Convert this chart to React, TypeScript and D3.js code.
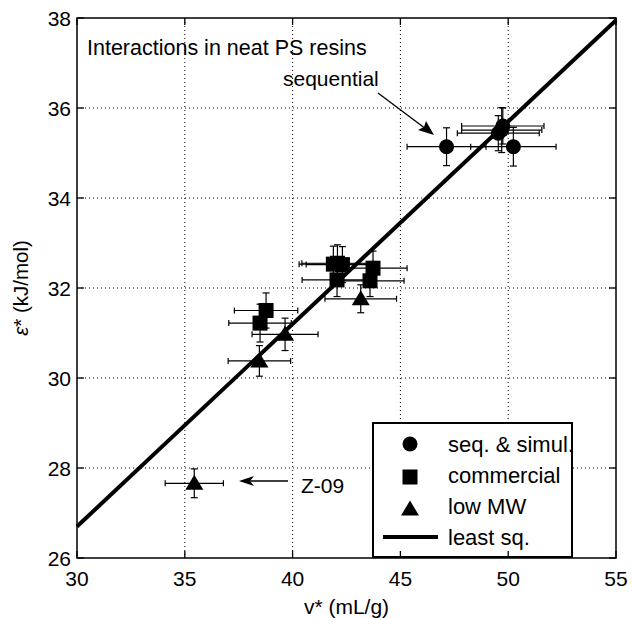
import React from "react";
import * as d3 from "d3";

// ---- data ----
const circleX = [47.14, 50.24, 49.75, 49.70, 49.54];
const circleY = [35.14, 35.14, 35.60, 35.51, 35.44];
const circleXErr = [1.83, 1.98, 1.91, 1.86, 1.90];
const circleYErr = [0.42, 0.43, 0.40, 0.50, 0.39];

const squareX = [38.77, 38.49, 41.89, 42.08, 42.31, 42.06, 43.73, 43.59];
const squareY = [31.50, 31.22, 32.53, 32.55, 32.52, 32.18, 32.44, 32.16];
const squareXErr = [1.47, 1.45, 1.59, 1.65, 1.68, 1.62, 1.58, 1.58];
const squareYErr = [0.39, 0.42, 0.40, 0.41, 0.40, 0.37, 0.38, 0.35];

const triX = [35.44, 38.46, 39.65, 43.16];
const triY = [27.66, 30.38, 30.97, 31.76];
const triXErr = [1.35, 1.45, 1.53, 1.66];
const triYErr = [0.32, 0.34, 0.36, 0.31];

const fitX = [30, 55];
const fitY = [26.7, 37.95];

const xTicks = [30, 35, 40, 45, 50, 55];
const yTicks = [26, 28, 30, 32, 34, 36, 38];

const legendLabels = ["seq. & simul.", "commercial", "low MW", "least sq."];

const W = 632, H = 618;
const L = 77, R = 616, T = 18, B = 558;
const FONT = "'Liberation Sans', Arial, Helvetica, sans-serif";

export default function App() {
  const x = d3.scaleLinear().domain([30, 55]).range([L, R]);
  const y = d3.scaleLinear().domain([26, 38]).range([B, T]);
  const line = d3.line<number>().x((_, i) => x(fitX[i])).y((d) => y(d));

  const errBars = (xs: number[], ys: number[], xe: number[], ye: number[], key: string) =>
    xs.map((xv, i) => {
      const cx = x(xv), cy = y(ys[i]);
      const x0 = x(xv - xe[i]), x1 = x(xv + xe[i]);
      const y0 = y(ys[i] - ye[i]), y1 = y(ys[i] + ye[i]);
      return (
        <g key={key + i} stroke="#000" strokeWidth={1.2} fill="none">
          <line x1={x0} y1={cy} x2={x1} y2={cy} />
          <line x1={x0} y1={cy - 3} x2={x0} y2={cy + 3} />
          <line x1={x1} y1={cy - 3} x2={x1} y2={cy + 3} />
          <line x1={cx} y1={y0} x2={cx} y2={y1} />
          <line x1={cx - 3.5} y1={y0} x2={cx + 3.5} y2={y0} />
          <line x1={cx - 3.5} y1={y1} x2={cx + 3.5} y2={y1} />
        </g>
      );
    });

  const tri = (cx: number, cy: number) =>
    `M${cx},${cy - 8.5} L${cx + 9},${cy + 6.5} L${cx - 9},${cy + 6.5} Z`;

  const gridX = xTicks.filter((t) => t !== 30 && t !== 55);
  const gridY = yTicks.filter((t) => t !== 26 && t !== 38);

  return (
    <svg width={W} height={H} style={{ position: "absolute", left: 0, top: 0, background: "#fff" }} fontFamily={FONT}>
      <rect x={0} y={0} width={W} height={H} fill="#fff" />
      {/* grid */}
      <g stroke="#000" strokeWidth={1} strokeDasharray="1 3">
        {gridX.map((t) => (
          <line key={"gx" + t} x1={x(t)} x2={x(t)} y1={T} y2={B} />
        ))}
        {gridY.map((t) => (
          <line key={"gy" + t} x1={L} x2={R} y1={y(t)} y2={y(t)} />
        ))}
      </g>

      {/* error bars */}
      {errBars(circleX, circleY, circleXErr, circleYErr, "ce")}
      {errBars(squareX, squareY, squareXErr, squareYErr, "se")}
      {errBars(triX, triY, triXErr, triYErr, "te")}

      {/* markers */}
      {circleX.map((v, i) => (
        <circle key={"c" + i} cx={x(v)} cy={y(circleY[i])} r={7.5} fill="#000" />
      ))}
      {squareX.map((v, i) => (
        <rect key={"s" + i} x={x(v) - 7.5} y={y(squareY[i]) - 7.5} width={15} height={15} fill="#000" />
      ))}
      {triX.map((v, i) => (
        <path key={"t" + i} d={tri(x(v), y(triY[i]))} fill="#000" />
      ))}

      {/* fit line */}
      <path d={line(fitY) || ""} stroke="#000" strokeWidth={4} fill="none" />

      {/* annotations */}
      <text x={87} y={55} fontSize={21.5}>Interactions in neat PS resins</text>
      <text x={283} y={86} fontSize={21}>sequential</text>
      <line x1={378} y1={93} x2={430} y2={132} stroke="#000" strokeWidth={1.3} />
      <path d="M434,135 L418,130 L424,127 L426,121 Z" fill="#000" />
      <text x={301} y={493} fontSize={21}>Z-09</text>
      <line x1={288} y1={481} x2={242} y2={481} stroke="#000" strokeWidth={1.3} />
      <path d="M239,481 L254,476 L250,481 L254,486 Z" fill="#000" />

      {/* legend */}
      <rect x={373} y={423} width={199} height={134} fill="#fff" stroke="#000" strokeWidth={2} />
      <circle cx={410} cy={444} r={7.5} fill="#000" />
      <rect x={402.5} y={469.5} width={15} height={15} fill="#000" />
      <path d={tri(410, 509)} fill="#000" />
      <line x1={383} x2={438} y1={537} y2={537} stroke="#000" strokeWidth={4} />
      {legendLabels.map((s, i) => (
        <text key={s} x={448} y={452 + i * 31} fontSize={22}>{s}</text>
      ))}

      {/* axes box and ticks */}
      <rect x={L} y={T} width={R - L} height={B - T} fill="none" stroke="#000" strokeWidth={1.5} />
      <g stroke="#000" strokeWidth={1.3}>
        {xTicks.map((t) => (
          <g key={"xt" + t}>
            <line x1={x(t)} x2={x(t)} y1={B} y2={B - 7} />
            <line x1={x(t)} x2={x(t)} y1={T} y2={T + 7} />
          </g>
        ))}
        {yTicks.map((t) => (
          <g key={"yt" + t}>
            <line x1={L} x2={L + 7} y1={y(t)} y2={y(t)} />
            <line x1={R} x2={R - 7} y1={y(t)} y2={y(t)} />
          </g>
        ))}
      </g>
      {xTicks.map((t) => (
        <text key={"xl" + t} x={x(t)} y={586} fontSize={21} textAnchor="middle">{t}</text>
      ))}
      {yTicks.map((t) => (
        <text key={"yl" + t} x={L - 6} y={y(t) + 7.5} fontSize={21} textAnchor="end">{t}</text>
      ))}
      <text x={(L + R) / 2} y={614} fontSize={21} textAnchor="middle">v* (mL/g)</text>
      <text transform={`translate(28,${(T + B) / 2}) rotate(-90)`} fontSize={20.5} textAnchor="middle">
        <tspan fontStyle="italic">ε</tspan>* (kJ/mol)
      </text>
    </svg>
  );
}
